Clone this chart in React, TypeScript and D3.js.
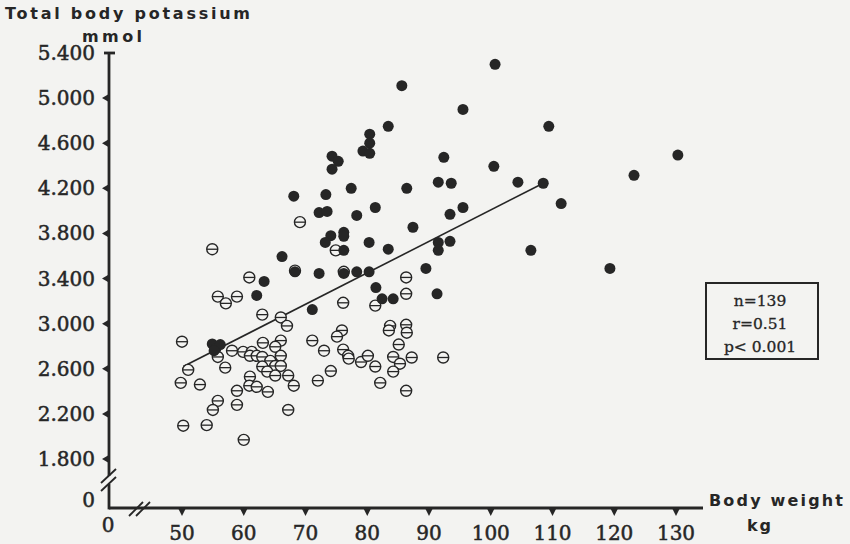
import * as d3 from 'd3'

// body weight (kg), total body potassium (mmol)
const filledPoints: [number, number][] = [
  [100.7, 5300], [85.6, 5110], [95.5, 4900], [109.4, 4750], [83.4, 4750],
  [80.4, 4680], [80.4, 4600], [79.3, 4530], [80.4, 4510], [74.3, 4485],
  [75.3, 4440], [74.3, 4370], [92.4, 4475], [100.5, 4395], [130.3, 4495],
  [104.4, 4255], [86.4, 4200], [91.5, 4255], [93.6, 4245], [108.5, 4245],
  [77.4, 4200], [68.1, 4130], [73.3, 4145], [123.2, 4315], [81.3, 4030],
  [72.2, 3985], [73.5, 3995], [78.3, 3960], [93.4, 3970], [95.5, 4030],
  [111.4, 4065], [87.4, 3855], [74.1, 3780], [76.2, 3810], [76.2, 3775],
  [73.2, 3720], [80.3, 3720], [76.2, 3650], [83.4, 3660], [91.5, 3720],
  [91.5, 3650], [93.4, 3730], [66.2, 3595], [106.5, 3650], [89.5, 3490],
  [119.3, 3490], [68.3, 3460], [72.2, 3445], [78.3, 3460], [80.3, 3460],
  [63.3, 3375], [62.1, 3250], [81.4, 3320], [82.4, 3220], [84.2, 3220],
  [91.3, 3265], [71.1, 3125], [54.9, 2820], [55.5, 2780], [56.2, 2815],
  [76.2, 3445], [55.2, 2760]
]

const openPoints: [number, number][] = [
  [69.1, 3900], [54.9, 3660], [74.9, 3650], [68.3, 3470], [76.2, 3460],
  [60.9, 3410], [86.3, 3410], [55.8, 3240], [57.1, 3180], [58.9, 3240],
  [86.3, 3265], [76.1, 3185], [63.0, 3080], [66.0, 3055], [67.0, 2980],
  [81.3, 3160], [83.7, 2980], [83.5, 2940], [86.3, 2990], [86.4, 2920],
  [75.9, 2940], [75.1, 2885], [50.0, 2840], [71.1, 2850], [85.1, 2815],
  [58.1, 2760], [59.9, 2750], [61.3, 2750], [61.0, 2715], [62.1, 2715],
  [63.1, 2830], [66.0, 2850], [65.1, 2795], [73.0, 2760], [76.1, 2770],
  [76.9, 2715], [77.0, 2690], [63.0, 2705], [64.3, 2670], [65.1, 2625],
  [66.0, 2715], [66.0, 2625], [63.0, 2620], [63.8, 2575], [65.1, 2540],
  [79.0, 2660], [80.1, 2715], [81.3, 2620], [84.2, 2705], [85.3, 2645],
  [87.2, 2700], [84.2, 2575], [51.0, 2590], [57.0, 2610], [74.1, 2580],
  [67.2, 2540], [49.8, 2475], [52.9, 2460], [61.0, 2530], [60.9, 2450],
  [62.1, 2440], [68.1, 2450], [72.0, 2495], [82.1, 2475], [58.9, 2405],
  [63.9, 2395], [86.3, 2405], [55.8, 2315], [55.0, 2235], [58.9, 2280],
  [67.2, 2235], [50.2, 2095], [54.0, 2100], [60.0, 1970], [92.3, 2700],
  [55.8, 2705]
]

const regression: [number, number][] = [[50.2, 2620], [108.5, 4245]]

const xTicks = [50, 60, 70, 80, 90, 100, 110, 120, 130]
const yTicks = [1800, 2200, 2600, 3000, 3400, 3800, 4200, 4600, 5000, 5400]
const statsLines = ['n=139', 'r=0.51', 'p< 0.001']

const ink = '#262626'
const paper = '#f3f3f1'

export default function App() {
  const width = 850
  const height = 544
  const axisX = 109
  const axisY = 508

  const x = d3.scaleLinear().domain([50, 130]).range([182, 676])
  const y = d3.scaleLinear().domain([1800, 5400]).range([459, 53])
  const line = d3.line<[number, number]>().x(d => x(d[0])).y(d => y(d[1]))
  const fmt = (v: number) => d3.format(',')(v).replace(',', '.')
  const r = 5.5

  // serif labels, slightly thickened like the printed scan
  const serif = {fontFamily: 'DejaVu Serif', fontSize: 20, fill: ink, stroke: ink, strokeWidth: 0.5}
  const sans = {fontFamily: 'DejaVu Sans', fontWeight: 'bold' as const, fontSize: 16, fill: ink}

  return (
    <svg width={width} height={height}
      style={{position: 'absolute', left: 0, top: 0, background: paper}}>
      <rect width={width} height={height} fill={paper} />

      {/* titles */}
      <text x={5} y={19} textLength={245} lengthAdjust="spacing" {...sans}>Total body potassium</text>
      <text x={82} y={42} textLength={60} lengthAdjust="spacing" {...sans}>mmol</text>
      <text x={709} y={506} textLength={134} lengthAdjust="spacing" {...sans}>Body weight</text>
      <text x={760} y={531} textAnchor="middle" letterSpacing={2} {...sans}>kg</text>

      {/* axes with breaks */}
      <g stroke={ink} strokeWidth={2.8} fill="none">
        <line x1={axisX} x2={axisX} y1={53} y2={476} />
        <line x1={axisX} x2={axisX} y1={484} y2={axisY + 1.4} />
        <line x1={104} x2={115} y1={53} y2={53} />
        <line x1={axisX} x2={703} y1={axisY} y2={axisY} />
      </g>
      <g stroke={ink} strokeWidth={1.8} fill="none">
        <line x1={101} x2={116} y1={483} y2={469} />
        <line x1={101} x2={116} y1={491} y2={477} />
        <line x1={129} x2={143} y1={516} y2={502} />
        <line x1={136} x2={150} y1={516} y2={502} />
      </g>

      {yTicks.map(t => (
        <g key={t}>
          {t !== 5400 && (
            <path d={`M${axisX - 1},${y(t) - 3.5} L${axisX - 7},${y(t)} L${axisX - 1},${y(t) + 3.5}Z`} fill={ink} />
          )}
          <text x={95} y={y(t) + 7} textAnchor="end" {...serif}>{fmt(t)}</text>
        </g>
      ))}
      <text x={95} y={507} textAnchor="end" {...serif}>0</text>

      {xTicks.map(t => (
        <g key={t}>
          <path d={`M${x(t) - 3.5},${axisY + 1} L${x(t)},${axisY + 8} L${x(t) + 3.5},${axisY + 1}Z`} fill={ink} />
          <text x={x(t)} y={540} textAnchor="middle" {...serif}>{t}</text>
        </g>
      ))}
      <text x={108} y={532} textAnchor="middle" {...serif}>0</text>

      {/* regression line */}
      <path d={line(regression) ?? ''} stroke={ink} strokeWidth={1.6} fill="none" />

      {/* open markers */}
      {openPoints.map((d, i) => (
        <g key={'o' + i}>
          <circle cx={x(d[0])} cy={y(d[1])} r={r} fill={paper} stroke={ink} strokeWidth={1.4} />
          <line x1={x(d[0]) - r} x2={x(d[0]) + r} y1={y(d[1])} y2={y(d[1])} stroke={ink} strokeWidth={1.3} />
        </g>
      ))}

      {/* filled markers */}
      {filledPoints.map((d, i) => (
        <circle key={'f' + i} cx={x(d[0])} cy={y(d[1])} r={r} fill={ink} />
      ))}

      {/* stats box */}
      <rect x={706} y={283} width={112} height={76} fill="none" stroke={ink} strokeWidth={2} />
      {statsLines.map((s, i) => (
        <text key={s} x={760} y={306 + i * 23} textAnchor="middle"
          {...serif} fontSize={15.5} strokeWidth={0.3}>{s}</text>
      ))}
    </svg>
  )
}
